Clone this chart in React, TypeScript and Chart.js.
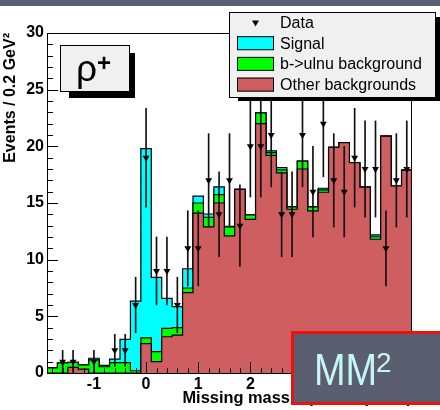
import { useEffect, useRef } from 'react';
import { Chart, registerables } from 'chart.js';

Chart.register(...registerables);

// Missing-mass-squared bins (GeV^2), 0.2 wide
const binCenters = [
  -1.8, -1.6, -1.4, -1.2, -1.0, -0.8, -0.6, -0.4, -0.2, 0.0,
  0.2, 0.4, 0.6, 0.8, 1.0, 1.2, 1.4, 1.6, 1.8, 2.0,
  2.2, 2.4, 2.6, 2.8, 3.0, 3.2, 3.4, 3.6, 3.8, 4.0,
  4.2, 4.4, 4.6, 4.8, 5.0,
];

// Stacked expectation per bin (events / 0.2 GeV^2)
const otherBackgrounds = [
  0, 0, 0.5, 0.35, 0, 0, 0, 0, 0, 2.6,
  1.0, 3.2, 3.35, 7.1, 14.1, 12.9, 15.0, 12.1, 16.2, 13.55,
  22.0, 19.2, 17.65, 14.45, 18.0, 14.3, 15.95, 19.9, 20.33, 18.55,
  16.4, 11.8, 20.9, 16.5, 17.9,
];
const buLnuBackground = [
  0.45, 0.9, 0.45, 0.37, 1.15, 0.55, 0.92, 0.92, 0.2, 0.5,
  0.88, 0.74, 0.65, 0.4, 0.9, 0.83, 0.74, 0.8, 0, 0.4,
  0.95, 0.25, 0.27, 0.2, 0.7, 0.35, 0.2, 0, 0, 0,
  0, 0.22, 0, 0, 0,
];
const signal = [
  0, 0, 0, 0, 0.15, 0.12, 0.3, 2.05, 6.15, 16.7,
  6.56, 2.65, 1.85, 1.7, 0.6, 0.3, 0.68, 0.05, 0, 0,
  0, 0.15, 0.2, 0.03, 0, 0.03, 0.15, 0, 0, 0,
  0, 0.16, 0, 0, 0,
];

// Observed events per bin
const dataCounts = [
  0, 1, 1, 0, 1, 0, 2, 2, 6, 19,
  9, 9, 6, 11, 11, 17, 14, 17, 13, 20,
  20, 21, 14, 14, 21, 16, 22, 17, 16, 19,
  18, 18, 11, 17, 18,
];

const xTickValues = [-1, 0, 1, 2, 3, 4, 5];
const yTickValues = [0, 5, 10, 15, 20, 25, 30];

const legendLabels = ['Data', 'Signal', 'b->ulnu background', 'Other backgrounds'];

const BIN_WIDTH = 0.2;
const X_MIN = -1.9;
const X_MAX = 5.1;
const Y_MIN = 0;
const Y_MAX = 30;

const RED = '#cf5e61';
const GREEN = '#00ff00';
const CYAN = '#00ffff';
const FONT = '"Liberation Sans", Arial, Helvetica, sans-serif';

// cumulative tops of the stack
const redTop = otherBackgrounds.slice();
const greenTop = redTop.map((v, i) => v + buLnuBackground[i]);
const cyanTop = greenTop.map((v, i) => v + signal[i]);

// step outline: one point per bin left edge plus the final right edge
const stepPoints = (tops: number[]) => {
  const pts = tops.map((v, i) => ({ x: binCenters[i] - BIN_WIDTH / 2, y: v }));
  pts.push({ x: binCenters[binCenters.length - 1] + BIN_WIDTH / 2, y: tops[tops.length - 1] });
  return pts;
};

const dataPoints = binCenters
  .map((c, i) => ({ x: c, y: dataCounts[i] }))
  .filter((p) => p.y > 0);
const errorBars = dataPoints.map((p) => ({ x: p.x, y: [p.y - Math.sqrt(p.y), p.y + Math.sqrt(p.y)] }));

const decorations = {
  id: 'decorations',
  afterDatasetsDraw(chart: any) {
    const { ctx, chartArea: a, scales } = chart;
    const x = scales.x;
    const y = scales.y;
    ctx.save();
    ctx.strokeStyle = '#000';
    ctx.lineWidth = 1;
    ctx.beginPath();
    // y ticks, pointing inward
    for (let v = Y_MIN; v <= Y_MAX; v++) {
      const py = Math.round(y.getPixelForValue(v)) + 0.5;
      const len = v % 5 === 0 ? 11 : 6;
      ctx.moveTo(a.left, py);
      ctx.lineTo(a.left + len, py);
    }
    // x ticks every 0.2, major at integers
    for (let k = Math.ceil(X_MIN * 5); k <= Math.floor(X_MAX * 5); k++) {
      const px = Math.round(x.getPixelForValue(k / 5)) + 0.5;
      const len = k % 5 === 0 ? 11 : 5;
      ctx.moveTo(px, a.bottom);
      ctx.lineTo(px, a.bottom - len);
    }
    ctx.stroke();
    ctx.strokeRect(a.left + 0.5, a.top + 0.5, a.right - a.left - 1, a.bottom - a.top);
    ctx.restore();
  },
  afterDraw(chart: any) {
    const { ctx } = chart;
    ctx.save();

    // strip along the top edge
    ctx.fillStyle = '#5c5f6f';
    ctx.fillRect(0, 0, 440, 6);

    // particle label box
    ctx.fillStyle = '#000';
    ctx.fillRect(69, 53, 66, 45);
    ctx.fillStyle = '#f0f0f0';
    ctx.fillRect(60, 45, 69, 47);
    ctx.strokeStyle = '#000';
    ctx.lineWidth = 1;
    ctx.strokeRect(60.5, 45.5, 69, 46);
    ctx.fillStyle = '#000';
    ctx.textBaseline = 'alphabetic';
    ctx.textAlign = 'left';
    ctx.font = `37px ${FONT}`;
    ctx.fillText('ρ', 76, 81);
    ctx.font = `bold 24px ${FONT}`;
    ctx.fillText('+', 97, 71);

    // legend
    const lx = 229;
    const ly = 12;
    const lw = 206;
    const lh = 85;
    ctx.fillStyle = '#000';
    ctx.fillRect(238, 17, 440 - 238, 101 - 17);
    ctx.fillStyle = '#f0f0f0';
    ctx.fillRect(lx, ly, lw, lh);
    ctx.strokeRect(lx + 0.5, ly + 0.5, lw, lh);
    const swatches = [null, CYAN, GREEN, RED];
    ctx.font = `16px ${FONT}`;
    ctx.textBaseline = 'middle';
    legendLabels.forEach((label, i) => {
      const cy = ly + 10.5 + i * 20.7;
      const sw = swatches[i];
      if (sw) {
        ctx.fillStyle = sw;
        ctx.fillRect(237, cy - 7, 37, 14);
        ctx.strokeStyle = '#000';
        ctx.strokeRect(237.5, cy - 6.5, 36, 13);
      } else {
        ctx.fillStyle = '#000';
        ctx.beginPath();
        ctx.moveTo(255.5 - 3.5, cy - 2);
        ctx.lineTo(255.5 + 3.5, cy - 2);
        ctx.lineTo(255.5, cy + 4);
        ctx.closePath();
        ctx.fill();
      }
      ctx.fillStyle = '#000';
      ctx.fillText(label, 280, cy + 1);
    });

    // MM^2 tag
    ctx.fillStyle = '#5b5e6e';
    ctx.fillRect(291, 331, 149, 74);
    ctx.strokeStyle = '#ee1111';
    ctx.lineWidth = 3;
    ctx.strokeRect(292.5, 332.5, 150, 71);
    ctx.fillStyle = '#c4f6f6';
    ctx.textBaseline = 'alphabetic';
    ctx.save();
    ctx.translate(314, 385);
    ctx.scale(0.86, 1);
    ctx.font = `44px ${FONT}`;
    ctx.fillText('MM', 0, 0);
    ctx.restore();
    ctx.font = `28px ${FONT}`;
    ctx.fillText('2', 376, 372);

    ctx.restore();
  },
};

export default function App() {
  const canvasRef = useRef<HTMLCanvasElement | null>(null);

  useEffect(() => {
    if (!canvasRef.current) return;
    const chart = new Chart(canvasRef.current, {
      type: 'line',
      data: {
        datasets: [
          {
            type: 'line',
            label: 'Data',
            data: dataPoints,
            showLine: false,
            pointStyle: 'triangle',
            rotation: 180,
            pointRadius: 4,
            backgroundColor: '#000',
            borderColor: '#000',
            borderWidth: 0,
          },
          {
            type: 'bar',
            label: 'Data errors',
            data: errorBars as any,
            backgroundColor: '#111',
            barThickness: 1,
            borderWidth: 0,
          },
          {
            type: 'line',
            label: 'Other backgrounds',
            data: stepPoints(redTop),
            stepped: 'before',
            fill: 'origin',
            backgroundColor: RED,
            borderColor: '#000',
            borderWidth: 1.2,
            pointRadius: 0,
          },
          {
            type: 'line',
            label: 'b->ulnu background',
            data: stepPoints(greenTop),
            stepped: 'before',
            fill: 'origin',
            backgroundColor: GREEN,
            borderColor: '#000',
            borderWidth: 1.2,
            pointRadius: 0,
          },
          {
            type: 'line',
            label: 'Signal',
            data: stepPoints(cyanTop),
            stepped: 'before',
            fill: 'origin',
            backgroundColor: CYAN,
            borderColor: '#000',
            borderWidth: 1.2,
            pointRadius: 0,
          },
        ],
      },
      options: {
        responsive: false,
        animation: false,
        events: [],
        layout: { padding: { left: 0, top: 33, right: 28, bottom: 0 } },
        plugins: {
          legend: { display: false },
          tooltip: { enabled: false },
        },
        scales: {
          x: {
            type: 'linear',
            min: X_MIN,
            max: X_MAX,
            offset: false,
            grid: { display: false, drawTicks: false, offset: false },
            border: { display: false },
            afterBuildTicks: (s: any) => {
              s.ticks = xTickValues.map((value) => ({ value }));
            },
            ticks: {
              color: '#000',
              padding: 2,
              font: { family: FONT, size: 16, weight: 'bold' },
            },
            title: {
              display: true,
              text: 'Missing mass squared (GeV²)',
              align: 'end',
              color: '#000',
              padding: { top: 0, bottom: 1.5 },
              font: { family: FONT, size: 16.4, weight: 'bold' },
            },
            afterFit: (s: any) => {
              s.height = 37;
            },
          },
          y: {
            min: Y_MIN,
            max: Y_MAX,
            grid: { display: false, drawTicks: false },
            border: { display: false },
            afterBuildTicks: (s: any) => {
              s.ticks = yTickValues.map((value) => ({ value }));
            },
            ticks: {
              color: '#000',
              padding: 3,
              font: { family: FONT, size: 16, weight: 'bold' },
            },
            title: {
              display: true,
              text: 'Events / 0.2 GeV²',
              align: 'end',
              color: '#000',
              padding: { top: 0.5, bottom: 0 },
              font: { family: FONT, size: 16, weight: 'bold' },
            },
            afterFit: (s: any) => {
              s.width = 47;
            },
          },
        },
      },
      plugins: [decorations],
    } as any);
    return () => chart.destroy();
  }, []);

  return (
    <div style={{ position: 'absolute', left: 0, top: 0, width: 440, height: 410, background: '#fff' }}>
      <canvas ref={canvasRef} width={440} height={410} style={{ display: 'block' }} />
    </div>
  );
}
